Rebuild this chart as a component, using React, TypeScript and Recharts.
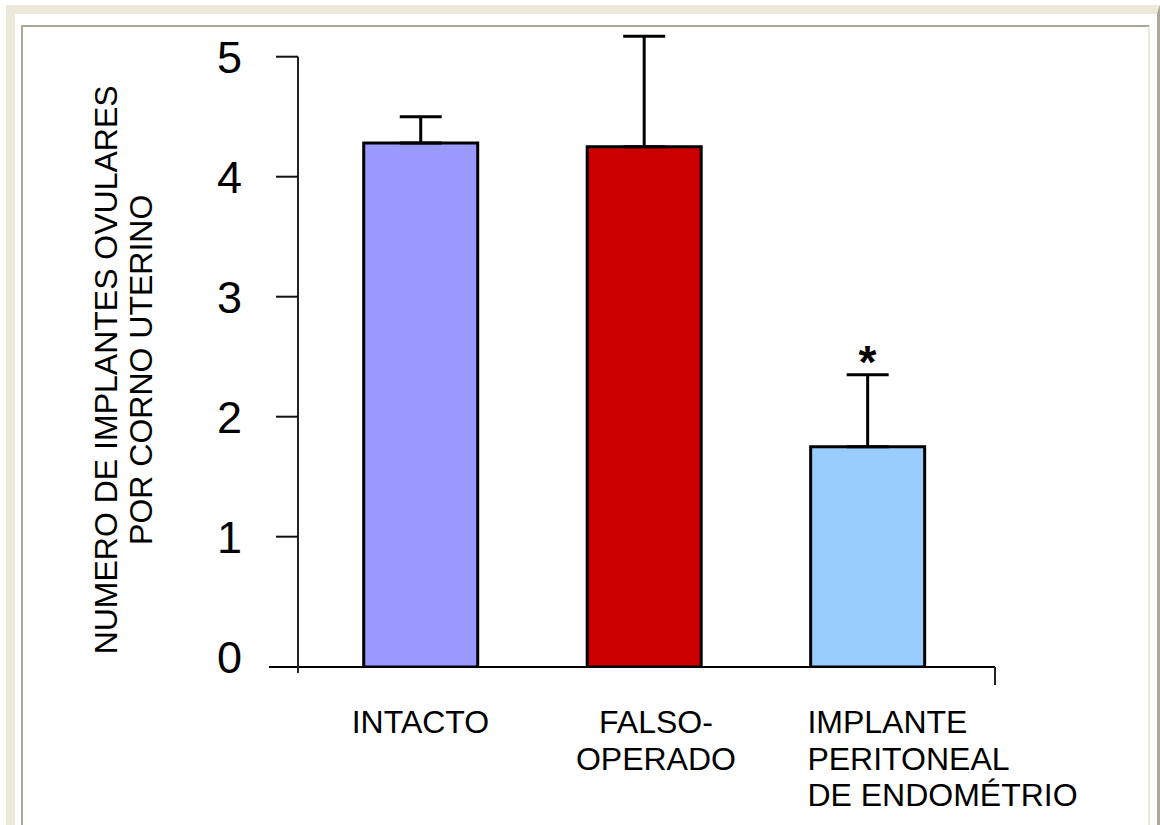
import { BarChart, Bar, Cell, XAxis, YAxis, ErrorBar, ReferenceLine, ReferenceDot } from 'recharts';

const categories = ['INTACTO', 'FALSO-\nOPERADO', 'IMPLANTE\nPERITONEAL\nDE ENDOMÉTRIO'];
const means = [4.28, 4.25, 1.75];
const sems = [0.22, 0.92, 0.6];
const significant = [false, false, true];
const yTicks = [0, 1, 2, 3, 4, 5];

const BAR_COLORS = ['#9999FF', '#CC0000', '#99CCFF'];
const LABEL_SHIFT = [0, 12, -60];
const LABEL_ANCHOR = ['middle', 'middle', 'start'];
const FONT = '"Liberation Sans", Arial, sans-serif';
const BEIGE = '#ECE9D8';
const GREY = '#ACA899';

// axis extents (value space)
const Y_MIN = -0.086;
const Y_TOP = 5.25;
const Y_AXIS_END = -0.136;
const Y_END_TICK = -0.236;
const X0 = -0.548;
const X1 = 2.571;
const X_LEFT = -0.678;

const data = categories.map((name, i) => ({
    pos: i,
    name,
    range: [Y_MIN, means[i]],
    err: [0, sems[i]],
}));

function YTick({ x, y, payload }: any) {
    const v = payload.value;
    const axisX = x + 56;
    return (
        <g>
            {v !== 0 && <line x1={axisX - 22} x2={axisX} y1={y} y2={y} stroke="#111" strokeWidth={2} />}
            <text x={x} y={y} dy={16} textAnchor="end" fontSize={45} fontFamily={FONT} fill="#000">
                {v}
            </text>
        </g>
    );
}

function CategoryTick({ x, y, payload }: any) {
    const i = payload.value;
    const lines = categories[i].split('\n');
    return (
        <g>
            {lines.map((line, k) => (
                <text key={k} x={x + LABEL_SHIFT[i]} y={y + 66 + k * 36.5} textAnchor={LABEL_ANCHOR[i]} fontSize={32} fontFamily={FONT} fill="#000">
                    {line}
                </text>
            ))}
        </g>
    );
}

function YTitle({ viewBox }: any) {
    const cy = viewBox.y + viewBox.height / 2 + 23;
    const lines = ['NUMERO DE IMPLANTES OVULARES', 'POR CORNO UTERINO'];
    return (
        <g>
            {lines.map((line, k) => {
                const cx = viewBox.x + 69 + k * 35;
                return (
                    <text key={k} x={cx} y={cy} transform={`rotate(-90, ${cx}, ${cy})`} textAnchor="middle" fontSize={32} fontFamily={FONT} fill="#000">
                        {line}
                    </text>
                );
            })}
        </g>
    );
}

export default function App() {
    return (
        <div style={{ position: 'absolute', left: 0, top: 0, width: 1160, height: 825, overflow: 'hidden', background: '#fff' }}>
            <div
                style={{
                    position: 'absolute', left: 6, top: 5, width: 1154, height: 900, boxSizing: 'border-box',
                    borderTop: `9px solid ${BEIGE}`, borderLeft: `9px solid ${BEIGE}`, borderRight: `3px solid ${GREY}`,
                }}
            />
            <div
                style={{
                    position: 'absolute', left: 21, top: 25, width: 1129, height: 900, boxSizing: 'border-box',
                    borderTop: `2px solid ${GREY}`, borderLeft: `2px solid ${GREY}`, borderRight: `2px solid ${BEIGE}`,
                }}
            />
            <div style={{ position: 'absolute', left: 0, top: 0 }}>
                <BarChart width={1160} height={825} data={data} margin={{ top: 26.7, right: 165, left: 48, bottom: 8 }}>
                    <XAxis
                        dataKey="pos"
                        type="number"
                        domain={[X0, X1]}
                        allowDataOverflow
                        ticks={[0, 1, 2]}
                        interval={0}
                        height={150}
                        axisLine={false}
                        tickLine={false}
                        tickSize={0}
                        tickMargin={0}
                        tick={<CategoryTick />}
                    />
                    <YAxis
                        type="number"
                        domain={[Y_MIN, Y_TOP]}
                        allowDataOverflow
                        ticks={yTicks}
                        interval={0}
                        width={250}
                        axisLine={false}
                        tickLine={false}
                        tickSize={0}
                        tickMargin={56}
                        tick={<YTick />}
                        label={<YTitle />}
                    />
                    <Bar dataKey="range" barSize={114} stroke="#000" strokeWidth={3} isAnimationActive={false}>
                        {data.map((_d, i) => (
                            <Cell key={`cell-${i}`} fill={BAR_COLORS[i]} />
                        ))}
                        <ErrorBar dataKey="err" direction="y" width={21} stroke="#000" strokeWidth={3} isAnimationActive={false} />
                    </Bar>
                    <ReferenceLine segment={[{ x: X_LEFT, y: Y_MIN }, { x: X1, y: Y_MIN }]} stroke="#000" strokeWidth={2} ifOverflow="visible" />
                    <ReferenceLine segment={[{ x: X1, y: Y_MIN }, { x: X1, y: Y_END_TICK }]} stroke="#222" strokeWidth={2} ifOverflow="visible" />
                    <ReferenceLine segment={[{ x: X0, y: 5 }, { x: X0, y: Y_AXIS_END }]} stroke="#222" strokeWidth={2} ifOverflow="visible" />
                    {significant.map((s, i) =>
                        s ? (
                            <ReferenceDot
                                key={`sig-${i}`}
                                x={i}
                                y={means[i] + sems[i]}
                                r={0}
                                fill="none"
                                stroke="none"
                                ifOverflow="visible"
                                label={{ value: '*', position: 'top', offset: -3, fontSize: 46, fontWeight: 'bold', fill: '#000', fontFamily: FONT }}
                            />
                        ) : null,
                    )}
                </BarChart>
            </div>
        </div>
    );
}
